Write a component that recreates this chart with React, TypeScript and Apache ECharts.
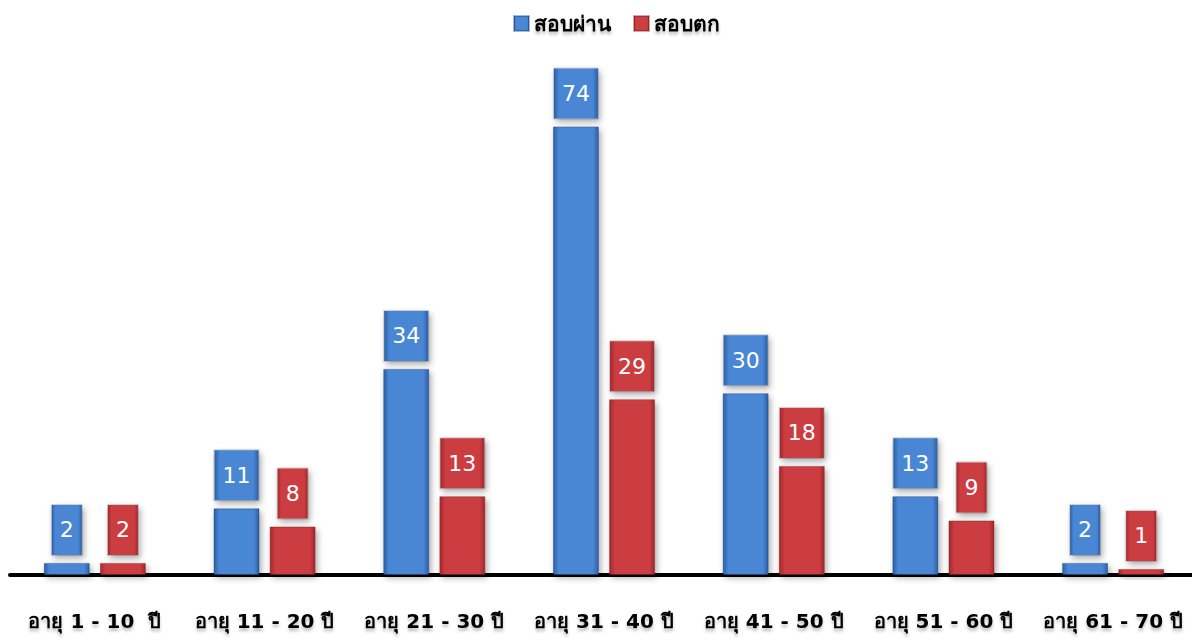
import React, { useEffect, useRef } from "react";
import * as echarts from "echarts";

const categories = [
  "อายุ 1 - 10  ปี",
  "อายุ 11 - 20 ปี",
  "อายุ 21 - 30 ปี",
  "อายุ 31 - 40 ปี",
  "อายุ 41 - 50 ปี",
  "อายุ 51 - 60 ปี",
  "อายุ 61 - 70 ปี",
];
const passName = "สอบผ่าน";
const failName = "สอบตก";
const passValues = [2, 11, 34, 74, 30, 13, 2];
const failValues = [2, 8, 13, 29, 18, 9, 1];

const grad = (edge: string, mid: string) =>
  new echarts.graphic.LinearGradient(0, 0, 1, 0, [
    { offset: 0, color: edge },
    { offset: 0.12, color: mid },
    { offset: 0.88, color: mid },
    { offset: 1, color: edge },
  ]);

const blueFill = () => grad("#2c5fa6", "#4a87d5");
const redFill = () => grad("#a3282c", "#cc3e42");

export default function App() {
  const ref = useRef<HTMLDivElement>(null);
  useEffect(() => {
    if (!ref.current) return;
    const chart = echarts.init(ref.current, undefined, { renderer: "svg" });
    const labelFor = (fill: () => any) => ({
      show: true,
      position: "top" as const,
      distance: 8,
      color: "#ffffff",
      fontFamily: "DejaVu Sans, Verdana, sans-serif",
      fontSize: 22,
      lineHeight: 26,
      padding: [12, 8, 12, 8],
      backgroundColor: fill(),
      borderColor: "rgba(0,0,0,0.15)",
      borderWidth: 1,
      shadowColor: "rgba(0,0,0,0.35)",
      shadowBlur: 6,
      shadowOffsetX: 2,
      shadowOffsetY: 3,
    });
    chart.setOption({
      animation: false,
      backgroundColor: "#ffffff",
      legend: {
        top: 8,
        left: 508,
        icon: "rect",
        itemWidth: 15,
        itemHeight: 15,
        itemGap: 22,
        textStyle: {
          fontSize: 21,
          fontWeight: "bold",
          color: "#000000",
          fontFamily: "Tahoma, DejaVu Sans, Noto Sans, sans-serif",
          textShadowColor: "rgba(0,0,0,0.25)",
          textShadowBlur: 3,
          textShadowOffsetY: 3,
        },
        data: [
          { name: passName, itemStyle: { color: blueFill() } },
          { name: failName, itemStyle: { color: redFill() } },
        ],
      },
      grid: { left: 10, right: 2, top: 90, bottom: 69, containLabel: false },
      xAxis: {
        type: "category",
        data: categories,
        axisLine: {
          show: true,
          onZero: false,
          lineStyle: {
            color: "#000000",
            width: 4,
          },
        },
        axisTick: { show: false },
        axisLabel: {
          interval: 0,
          margin: 36,
          fontSize: 20,
          fontWeight: "bold",
          color: "#000000",
          fontFamily: "Tahoma, DejaVu Sans, Noto Sans, sans-serif",
          textShadowColor: "rgba(0,0,0,0.25)",
          textShadowBlur: 3,
          textShadowOffsetY: 3,
        },
      },
      yAxis: {
        type: "value",
        min: 0,
        max: 80,
        axisLine: { show: false },
        axisTick: { show: false },
        axisLabel: { show: false },
        splitLine: { show: false },
      },
      series: [
        {
          name: passName,
          type: "bar",
          data: passValues,
          barWidth: 46,
          barGap: "22%",
          itemStyle: {
            color: blueFill(),
            borderColor: "rgba(20,50,100,0.35)",
            borderWidth: 1,
            shadowColor: "rgba(0,0,0,0.35)",
            shadowBlur: 6,
            shadowOffsetX: 2,
            shadowOffsetY: 3,
          },
          label: labelFor(blueFill),
        },
        {
          name: failName,
          type: "bar",
          data: failValues,
          barWidth: 46,
          barGap: "22%",
          itemStyle: {
            color: redFill(),
            borderColor: "rgba(100,20,20,0.35)",
            borderWidth: 1,
            shadowColor: "rgba(0,0,0,0.35)",
            shadowBlur: 6,
            shadowOffsetX: 2,
            shadowOffsetY: 3,
          },
          label: labelFor(redFill),
        },
      ],
    });
    return () => chart.dispose();
  }, []);
  return <div ref={ref} style={{ width: 1200, height: 644, marginLeft: -8, marginTop: -8 }} />;
}
